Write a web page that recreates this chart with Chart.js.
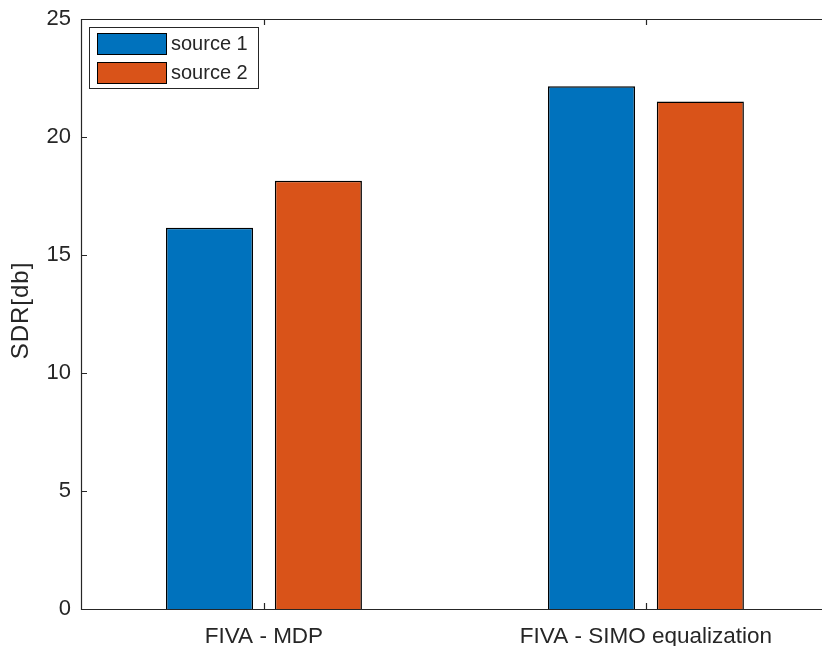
<!DOCTYPE html>
<html>
<head>
<meta charset="utf-8">
<script src="https://cdn.jsdelivr.net/npm/chart.js@4.4.1/dist/chart.umd.min.js"></script>
<style>
  html, body { margin: 0; padding: 0; background: #fff; overflow: hidden; }
  canvas { display: block; }
</style>
</head>
<body>
<canvas id="myChart" width="822" height="646"></canvas>
<script>
  // valores
  const categories = ['FIVA - MDP', 'FIVA - SIMO equalization'];
  const source1 = [16.15, 22.15];
  const source2 = [18.15, 21.5];
  const yTicks = [0, 5, 10, 15, 20, 25];
  const yLabel = 'SDR[db]';

  const FONT = "'Liberation Sans', Arial, Helvetica, sans-serif";
  const AXIS = '#262626';

  const toPoints = vals => vals.map((v, i) => ({ x: i + 1, y: v }));

  const data = {
    datasets: [{
      label: 'source 1',
      backgroundColor: '#0072BD',
      borderColor: '#000',
      borderWidth: 1.5,
      data: toPoints(source1),
    }, {
      label: 'source 2',
      backgroundColor: '#D95319',
      borderColor: '#000',
      borderWidth: 1.5,
      data: toPoints(source2),
    }]
  };

  // marco estilo matlab con ticks hacia adentro
  const frame = {
    id: 'frame',
    afterDatasetsDraw(chart) {
      const { ctx, chartArea: a, scales: { x, y } } = chart;
      ctx.save();
      ctx.strokeStyle = AXIS;
      ctx.lineWidth = 1.2;
      ctx.beginPath();
      ctx.moveTo(a.right, a.top + 0.5);
      ctx.lineTo(a.left + 0.5, a.top + 0.5);
      ctx.lineTo(a.left + 0.5, a.bottom + 0.5);
      ctx.lineTo(a.right, a.bottom + 0.5);
      yTicks.forEach(v => {
        const py = Math.round(y.getPixelForValue(v)) + 0.5;
        ctx.moveTo(a.left, py);
        ctx.lineTo(a.left + 6, py);
      });
      categories.forEach((c, i) => {
        const px = Math.round(x.getPixelForValue(i + 1)) + 0.5;
        ctx.moveTo(px, a.bottom);
        ctx.lineTo(px, a.bottom - 6);
        ctx.moveTo(px, a.top);
        ctx.lineTo(px, a.top + 6);
      });
      ctx.stroke();

      // titulo del eje y
      ctx.font = '24px ' + FONT;
      ctx.letterSpacing = '1px';
      ctx.fillStyle = AXIS;
      ctx.textAlign = 'left';
      ctx.textBaseline = 'middle';
      const w = ctx.measureText(yLabel).width - 1;
      ctx.translate(21, (a.top + a.bottom) / 2 - 3);
      ctx.rotate(-Math.PI / 2);
      ctx.fillText(yLabel, -w / 2, 0);
      ctx.restore();
    }
  };

  const legendBox = {
    id: 'legendBox',
    afterDraw(chart) {
      const { ctx } = chart;
      const bx = 89.5, by = 27.5, bw = 169, bh = 61;
      ctx.save();
      ctx.fillStyle = '#fff';
      ctx.fillRect(bx, by, bw, bh);
      ctx.strokeStyle = AXIS;
      ctx.lineWidth = 1;
      ctx.strokeRect(bx, by, bw, bh);
      ctx.font = '20px ' + FONT;
      ctx.textBaseline = 'middle';
      chart.data.datasets.forEach((ds, i) => {
        const ry = 33.5 + i * 29;
        ctx.fillStyle = ds.backgroundColor;
        ctx.fillRect(97.5, ry, 69, 21);
        ctx.strokeStyle = '#000';
        ctx.strokeRect(97.5, ry, 69, 21);
        ctx.fillStyle = AXIS;
        ctx.fillText(ds.label, 171, ry + 11);
      });
      ctx.restore();
    }
  };

  const config = {
    type: 'bar',
    data: data,
    options: {
      responsive: false,
      animation: false,
      devicePixelRatio: 1,
      layout: { padding: { top: 19, left: 0, right: 0, bottom: 0 } },
      categoryPercentage: 0.57,
      barPercentage: 0.8,
      plugins: { legend: { display: false }, tooltip: { enabled: false } },
      scales: {
        x: {
          type: 'linear',
          min: 0.521,
          max: 2.461,
          offset: false,
          grid: { display: false, drawTicks: false },
          border: { display: false },
          afterBuildTicks: s => { s.ticks = categories.map((c, i) => ({ value: i + 1 })); },
          afterFit: s => { s.height = 37; s.paddingLeft = 0; s.paddingRight = 0; },
          ticks: {
            autoSkip: false,
            maxRotation: 0,
            padding: 14,
            color: AXIS,
            font: { family: FONT, size: 22.5 },
            callback: v => categories[v - 1]
          }
        },
        y: {
          min: 0,
          max: 25,
          grid: { display: false, drawTicks: false },
          border: { display: false },
          afterBuildTicks: s => { s.ticks = yTicks.map(v => ({ value: v })); },
          afterFit: s => { s.width = 81; s.paddingTop = 0; s.paddingBottom = 0; },
          ticks: {
            padding: 10,
            color: AXIS,
            font: { family: FONT, size: 22 }
          }
        }
      }
    },
    plugins: [frame, legendBox]
  };

  const myChart = new Chart(document.getElementById('myChart'), config);
</script>
</body>
</html>
